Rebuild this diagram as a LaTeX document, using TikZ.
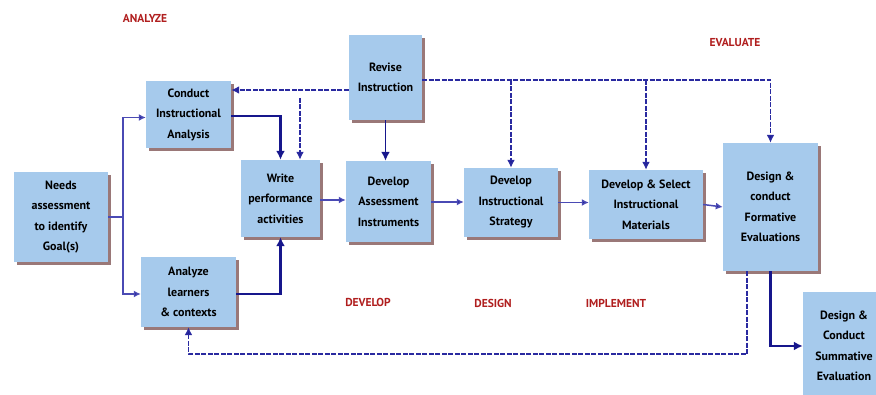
\documentclass[tikz,border=0pt]{standalone}
\usepackage{fontspec}
\setmainfont{PT Sans}
\usetikzlibrary{arrows.meta}
\definecolor{boxfill}{HTML}{A6CAEC}
\definecolor{shadowc}{HTML}{9A7878}
\definecolor{navy}{HTML}{16168C}
\definecolor{thinline}{HTML}{4A4AB4}
\definecolor{dashc}{HTML}{2A2AA0}
\definecolor{phase}{HTML}{B01E1E}
\tikzset{
  box/.style={fill=boxfill, inner sep=0pt, align=center,
    font=\fontsize{12}{20.5}\selectfont\bfseries,
    preaction={fill=shadowc, transform canvas={shift={(2.6pt,-2.6pt)}}}},
  phaselabel/.style={text=phase, font=\fontsize{11.5}{12}\selectfont\bfseries, inner sep=0pt},
  thickarrow/.style={draw=navy, line width=2.4pt, -{Latex[length=9pt,width=9pt]}},
  thinarrow/.style={draw=thinline, line width=1.5pt, -{Latex[length=7pt,width=7pt,fill=navy]}},
  thinplain/.style={draw=thinline, line width=1.5pt},
  fbline/.style={draw=dashc, line width=1.6pt, dash pattern=on 5pt off 1.5pt},
  fbarrow/.style={fbline, -{Latex[length=8pt,width=8pt,fill=navy]}}
}
\begin{document}
\begin{tikzpicture}[x=1pt,y=-1pt]
\useasboundingbox (0,0) rectangle (876,395);
% boxes
\node[box, minimum width=94pt, minimum height=90pt] (needs) at (61,217) {Needs\\assessment\\to identify\\Goal(s)};
\node[box, minimum width=85pt, minimum height=67pt] (ci) at (188.5,114.5) {Conduct\\Instructional\\Analysis};
\node[box, minimum width=95pt, minimum height=70pt] (al) at (188.5,292) {Analyze\\learners\\\& contexts};
\node[box, minimum width=73pt, minimum height=85pt] (rv) at (385.5,77.5) {Revise\\Instruction};
\node[box, minimum width=79pt, minimum height=77pt] (wp) at (280.5,198.5) {Write\\performance\\activities};
\node[box, minimum width=85pt, minimum height=81pt] (da) at (388.5,201.5) {Develop\\Assessment\\Instruments};
\node[box, minimum width=94pt, minimum height=69pt] (ds) at (511,202.5) {Develop\\Instructional\\Strategy};
\node[box, minimum width=114pt, minimum height=69pt] (dm) at (646,204.5) {Develop \& Select\\Instructional\\Materials};
\node[box, minimum width=95pt, minimum height=128pt] (fe) at (770.5,207) {Design \&\\conduct\\Formative\\Evaluations};
\node[box, minimum width=82pt, minimum height=108pt] (ss) at (844,346) {Design \&\\Conduct\\Summative\\Evaluation};
% phase labels
\node[phaselabel] (lan) at (145,18) {ANALYZE};
\node[phaselabel] (lev) at (735,43) {EVALUATE};
\node[phaselabel] (ldv) at (368,302) {DEVELOP};
\node[phaselabel] (lds) at (493,303) {DESIGN};
\node[phaselabel] (lim) at (616,303) {IMPLEMENT};
% needs branches
\coordinate (br) at (123,217);
\draw[thinplain] (needs.east) -- (br);
\draw[thinarrow] (br) |- ([yshift=-3pt]ci.west);
\draw[thinarrow] (br) |- ([yshift=-2pt]al.west);
% thick arrows
\draw[thickarrow] ([yshift=-1.5pt]ci.east) -| (wp.north);
\draw[thickarrow] ([yshift=-2pt]al.east) -| (wp.south);
\draw[thickarrow, line width=1.8pt] (rv.south) -- (rv.south |- da.north);
\draw[thickarrow] (fe.south) |- (ss.west);
% main flow
\draw[thinarrow] ([yshift=-1.5pt]wp.east) -- ([yshift=-1.5pt]wp.east -| da.west);
\draw[thinarrow] ([yshift=-0.5pt]da.east) -- ([yshift=-0.5pt]da.east -| ds.west);
\draw[thinarrow] (ds.east) -- (ds.east -| dm.west);
\draw[thinarrow] (dm.east) -- (fe.west);
% feedback dashed lines
\coordinate (tl) at ([yshift=-12.5pt]rv.west);
\draw[fbarrow] (tl) -- (tl -| ci.east);
\coordinate (b1) at (300,98);
\draw[fbarrow] (b1) -- (b1 |- wp.north);
\coordinate (tr) at ([yshift=-2.5pt]rv.east);
\draw[fbarrow] (tr) -| (fe.north);
\draw[fbarrow] (tr -| ds.north) -- (ds.north);
\draw[fbarrow] (tr -| dm.north) -- (dm.north);
\draw[fbarrow] ([xshift=-23.5pt]fe.south) -- ++(0,83) -| (al.south);
\end{tikzpicture}
\end{document}
